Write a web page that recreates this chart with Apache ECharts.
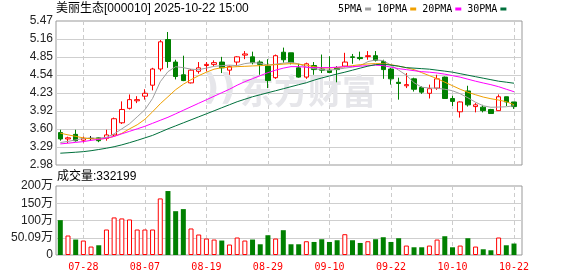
<!DOCTYPE html>
<html><head><meta charset="utf-8">
<script src="https://cdn.jsdelivr.net/npm/echarts@6/dist/echarts.min.js"></script>
<style>html,body{margin:0;padding:0;background:#fff}#c{width:578px;height:276px}</style>
</head><body><div id="c"></div>
<script>
const dates = ['07-23','07-24','07-25','07-28','07-29','07-30','07-31','08-01','08-04','08-05','08-06','08-07','08-08','08-11','08-12','08-13','08-14','08-15','08-18','08-19','08-20','08-21','08-22','08-25','08-26','08-27','08-28','08-29','09-01','09-02','09-03','09-04','09-05','09-08','09-09','09-10','09-11','09-12','09-15','09-16','09-17','09-18','09-19','09-22','09-23','09-24','09-25','09-26','09-29','09-30','10-09','10-10','10-13','10-14','10-15','10-16','10-17','10-20','10-21','10-22'];
const opens  = [3.54,3.43,3.51,3.41,3.44,3.45,3.44,3.50,3.71,3.96, 4.09,4.17,4.36,4.64,5.15,4.76,4.54,4.40,4.60,4.70, 4.72,4.76,4.62,4.76,4.88,4.85,4.76,4.69,4.49,4.93, 4.92,4.66,4.50,4.70,4.64,4.62,4.66,4.69,4.85,4.84, 4.855,4.87,4.77,4.64,4.41,4.35,4.47,4.32,4.22,4.31, 4.50,4.13,3.90,4.26,3.99,3.98,3.94,3.92,4.16,4.07];
const closes = [3.43,3.45,3.40,3.44,3.44,3.40,3.50,3.78,3.94,4.11, 4.11,4.22,4.64,5.11,4.77,4.51,4.44,4.62,4.66,4.72, 4.75,4.66,4.68,4.85,4.90,4.75,4.72,4.44,4.87,4.80, 4.75,4.50,4.73,4.63,4.62,4.58,4.63,4.76,4.84,4.82, 4.87,4.79,4.63,4.47,4.39,4.37,4.29,4.24,4.30,4.47, 4.13,4.08,4.07,4.02,4.02,3.92,3.87,4.16,4.07,3.99];
const lows   = [3.40,3.36,3.385,3.37,3.40,3.375,3.40,3.47,3.69,3.94, 4.05,4.11,4.27,4.60,4.66,4.46,4.43,4.39,4.56,4.60, 4.68,4.57,4.54,4.69,4.81,4.72,4.54,4.31,4.47,4.75, 4.72,4.49,4.47,4.54,4.57,4.58,4.41,4.67,4.73,4.79, 4.80,4.77,4.47,4.37,4.11,4.31,4.25,4.21,4.13,4.28, 4.13,4.00,3.80,3.99,3.89,3.89,3.87,3.92,4.00,3.95];
const highs  = [3.59,3.47,3.59,3.47,3.48,3.46,3.59,3.80,4.08,4.20, 4.17,4.29,4.66,5.14,5.28,4.80,4.87,4.64,4.76,4.76, 4.79,4.85,4.70,4.86,4.95,4.94,4.79,4.81,4.89,5.01, 4.92,4.73,4.75,4.76,4.89,4.86,4.69,4.92,4.90,4.94, 4.95,4.95,4.80,4.66,4.49,4.57,4.49,4.34,4.37,4.54, 4.51,4.18,4.08,4.35,4.05,4.02,3.95,4.20,4.16,4.07];
const ma5  = [3.368,3.388,3.414,3.440,3.444,3.444,3.458,3.519,3.605,3.692, 3.813,3.935,4.130,4.420,4.594,4.680,4.663,4.637,4.629,4.655, 4.686,4.698,4.707,4.698,4.733,4.750,4.741,4.707,4.724,4.741, 4.755,4.728,4.672,4.646,4.629,4.617,4.637,4.655,4.672,4.698, 4.767,4.797,4.785,4.707,4.620,4.533,4.403,4.325,4.311,4.308, 4.290,4.264,4.212,4.143,4.065,4.004,3.978,3.982,3.987,4.004];
const ma10 = [3.531,3.501,3.475,3.449,3.432,3.427,3.440,3.475,3.527,3.605, 3.675,3.770,3.900,4.039,4.160,4.282,4.377,4.455,4.525,4.585, 4.637,4.663,4.672,4.681,4.686,4.693,4.698,4.707,4.715,4.724, 4.733,4.724,4.707,4.681,4.658,4.658,4.663,4.681,4.698,4.715, 4.728,4.733,4.733,4.715,4.689,4.663,4.629,4.577,4.525,4.473, 4.412,4.351,4.290,4.238,4.195,4.155,4.126,4.103,4.074,4.022];
const ma20 = [3.345,3.357,3.371,3.385,3.406,3.423,3.444,3.475,3.519,3.562, 3.605,3.649,3.701,3.753,3.805,3.865,3.926,3.987,4.048,4.108, 4.169,4.230,4.290,4.360,4.421,4.473,4.525,4.577,4.620,4.655, 4.681,4.681,4.672,4.663,4.663,4.663,4.672,4.681,4.681,4.689, 4.698,4.707,4.698,4.672,4.646,4.629,4.611,4.594,4.585,4.571, 4.551,4.525,4.499,4.464,4.429,4.398,4.369,4.334,4.290,4.247];
const ma30 = [3.184,3.192,3.201,3.211,3.227,3.248,3.270,3.296,3.328,3.366, 3.406,3.449,3.492,3.548,3.605,3.657,3.709,3.761,3.813,3.865, 3.917,3.970,4.022,4.074,4.117,4.160,4.195,4.230,4.264,4.299, 4.334,4.369,4.403,4.447,4.485,4.519,4.554,4.585,4.620,4.655, 4.689,4.715,4.724,4.707,4.689,4.663,4.655,4.646,4.637,4.620, 4.603,4.585,4.559,4.533,4.507,4.481,4.455,4.429,4.412,4.394];
const volumes = [1010000,565000,448000,419000,245000,282000,739000,1089000,1060000,1030000, 739000,739000,739000,1640000,1854000,1270000,1330000,769000,594000,477000, 448000,419000,303000,507000,419000,448000,311000,573000,477000,719000, 311000,311000,399000,378000,457000,378000,428000,603000,428000,349000, 399000,457000,515000,378000,486000,274000,224000,224000,274000,448000, 544000,224000,274000,486000,245000,166000,137000,507000,282000,332199];
const priceTicks = ['2.98','3.29','3.60','3.92','4.23','4.54','4.85','5.16','5.47'];
const volTicks = ['0','50.09万','100万','150万','200万'];
const stockTitle = '美丽生态[000010] 2025-10-22 15:00';
const maNames = ['5PMA','10PMA','20PMA','30PMA'];

const RED = '#ff0000', GREEN = '#008000';
const FONT = "'Liberation Sans','Noto Sans CJK SC',sans-serif";
const MONO = "'DejaVu Sans Mono',monospace";
const showIdx = (i) => (i - 3) % 8 === 0;

const kData = dates.map((d, i) => [opens[i], closes[i], lows[i], highs[i]]);
const volData = volumes.map((v, i) => {
  const up = closes[i] >= opens[i];
  return { value: v, itemStyle: up ? { color: '#fff', borderColor: RED, borderWidth: 1 } : { color: GREEN, borderColor: GREEN, borderWidth: 0 } };
});

const chart = echarts.init(document.getElementById('c'), null, { renderer: 'canvas' });
const frameY = (ticks) => ({
  type: 'value', min: 0, max: ticks.length - 1, interval: 1,
  axisLine: { show: false }, axisTick: { show: false },
  axisLabel: { margin: 3, color: '#222', fontSize: 12, fontFamily: FONT, formatter: (v) => ticks[v] },
  splitLine: { show: true, showMinLine: false, showMaxLine: false, lineStyle: { color: '#cfcfcf', width: 1 } }
});
const dataX = (grid, labels) => ({
  type: 'category', gridIndex: grid, data: dates, boundaryGap: false,
  axisLine: { show: false }, axisTick: { show: false },
  axisLabel: labels ? { show: true, interval: (i) => showIdx(i), color: RED, fontSize: 10, fontFamily: MONO, margin: 7 } : { show: false },
  splitLine: { show: true, interval: (i) => showIdx(i), lineStyle: { color: '#cccccc', type: [4, 3], width: 1 } }
});
const maColors = ['#a0a0a0', '#f0a000', '#ff00ff', '#00703c'];
const maData = [ma5, ma10, ma20, ma30];

chart.setOption({
  animation: false,
  backgroundColor: '#fff',
  title: [
    { text: stockTitle, left: 56, top: 3, padding: 0, textStyle: { fontSize: 12, fontWeight: 'normal', color: '#000', fontFamily: FONT } },
    { text: '成交量:' + volumes[volumes.length - 1], left: 57, top: 171, padding: 0, textStyle: { fontSize: 12, fontWeight: 'normal', color: '#000', fontFamily: FONT } }
  ],
  legend: {
    data: maNames, left: 338, top: 4, padding: 0, itemWidth: 6, itemHeight: 3, itemGap: 6, align: 'right', icon: 'rect', selectedMode: false,
    textStyle: { fontFamily: MONO, fontSize: 10, color: '#000', padding: [0, -2, 0, 0] }
  },
  graphic: [
    { type: 'text', left: 240, top: 74, z: 1, silent: true, style: { text: '东方财富', fill: '#e6e6ea', font: "bold 34px 'Noto Sans CJK SC'" } },
    { type: 'text', left: 203, top: 72, z: 1, silent: true, style: { text: '))', fill: '#e6e6ea', font: "bold 36px 'DejaVu Sans'" } }
  ],
  grid: [
    { left: 56, top: 21, width: 466, height: 144, show: true, borderColor: '#999', borderWidth: 1, backgroundColor: 'transparent' },
    { left: 60.3, top: 21, width: 453.7, height: 144 },
    { left: 56, top: 186, width: 466, height: 69, show: true, borderColor: '#999', borderWidth: 1, backgroundColor: 'transparent' },
    { left: 60.3, top: 186, width: 453.7, height: 69 }
  ],
  xAxis: [
    { type: 'value', gridIndex: 0, show: false, min: 0, max: 1 },
    dataX(1, false),
    { type: 'value', gridIndex: 2, show: false, min: 0, max: 1 },
    dataX(3, true)
  ],
  yAxis: [
    Object.assign({ gridIndex: 0 }, frameY(priceTicks)),
    { type: 'value', gridIndex: 1, min: 2.98, max: 5.47, show: false, splitLine: { show: false } },
    Object.assign({ gridIndex: 2 }, frameY(volTicks)),
    { type: 'value', gridIndex: 3, min: 0, max: 2000000, show: false, splitLine: { show: false } }
  ],
  series: [
    {
      type: 'candlestick', xAxisIndex: 1, yAxisIndex: 1, data: kData, barWidth: 5, clip: false, z: 3,
      itemStyle: { color: '#fff', color0: GREEN, borderColor: RED, borderColor0: GREEN, borderColorDoji: '#000', borderWidth: 1 }
    },
    ...maNames.map((n, k) => ({
      name: n, type: 'line', xAxisIndex: 1, yAxisIndex: 1, data: maData[k], symbol: 'none', clip: false, z: 4,
      color: maColors[k], lineStyle: { width: 1, color: maColors[k] }
    })),
    { type: 'bar', xAxisIndex: 3, yAxisIndex: 3, data: volData, barWidth: 5, clip: false, z: 3 }
  ]
});
</script></body></html>
